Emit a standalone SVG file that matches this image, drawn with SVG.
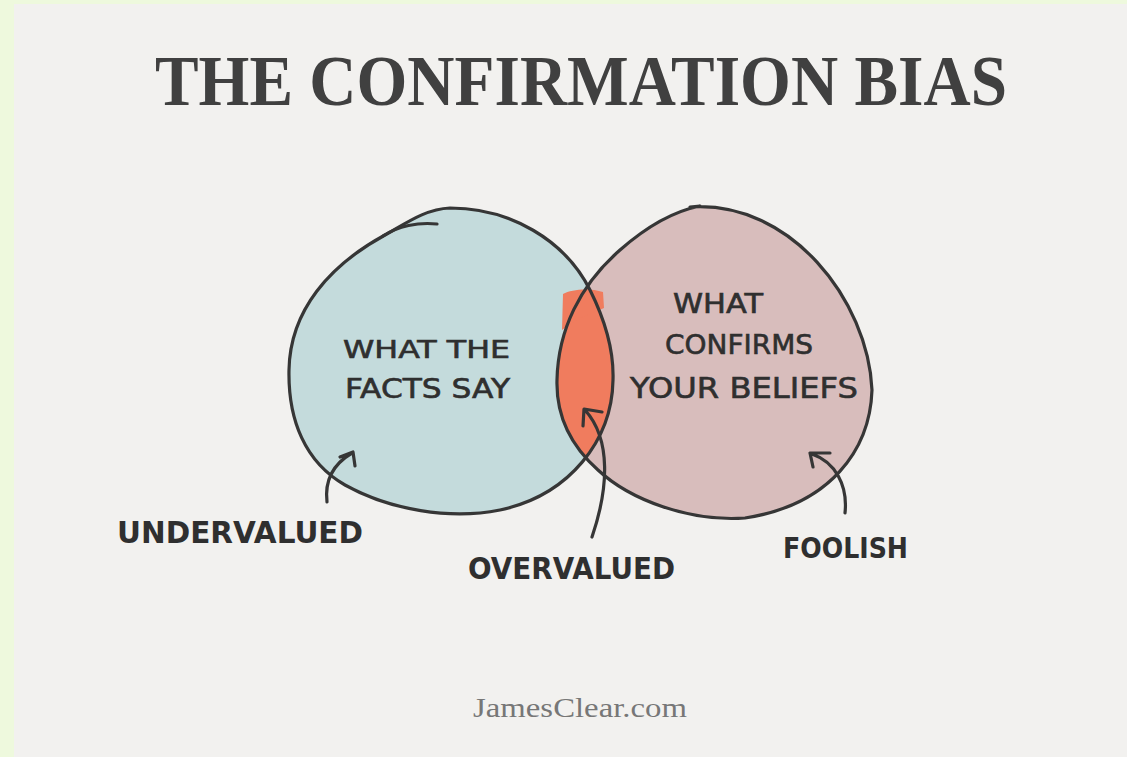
<svg xmlns="http://www.w3.org/2000/svg" width="1127" height="757" viewBox="0 0 1127 757">
<style>
.outline{fill:none;stroke:#363636;stroke-width:3.2;stroke-linecap:round;stroke-linejoin:round}
.hand{font-family:"DejaVu Sans","Liberation Sans",sans-serif;fill:#2f2f2f;stroke:#2f2f2f;stroke-width:0.6}
.label{font-family:"DejaVu Sans","Liberation Sans",sans-serif;font-weight:bold;fill:#2f2f2f}
</style>
<defs>
<path id="leftShape" d="M385,235 C405,224 425,209 450,208 C510,208 565,240 590,290 C605,320 614,350 613,380 C612,440 570,495 500,510 C450,520 390,510 345,485 C305,462 288,420 289,370 C290,310 330,265 385,235 Z"/>
<path id="rightShape" d="M690,207 C790,200 868,300 872,390 C870,450 830,505 745,518 C690,522 630,500 598,470 C570,445 556,415 557,380 C558,330 580,285 620,250 C645,228 670,212 700,206 Z"/>
<clipPath id="leftClip"><use href="#leftShape"/></clipPath>
</defs>
<rect x="0" y="0" width="1127" height="757" fill="#f2f1ef"/>
<rect x="0" y="0" width="14" height="757" fill="#eef9dd"/>
<rect x="0" y="0" width="1127" height="4" fill="#eef9dd"/>
<text x="155" y="105" font-family="Liberation Serif,serif" font-weight="bold" font-size="71" fill="#404040" textLength="852" lengthAdjust="spacingAndGlyphs">THE CONFIRMATION BIAS</text>
<g id="facts">
<use href="#leftShape" fill="#c4dbdc"/>
<text class="hand" x="343" y="358" font-size="24" textLength="167" lengthAdjust="spacingAndGlyphs">WHAT THE</text>
<text class="hand" x="345" y="398" font-size="26" textLength="165" lengthAdjust="spacingAndGlyphs">FACTS SAY</text>
</g>
<g id="beliefs">
<use href="#rightShape" fill="#d8bdbc"/>
</g>
<g id="overlap">
<use href="#rightShape" fill="#f07c5e" clip-path="url(#leftClip)"/>
<path d="M563,294 C572,289 590,288 603,292 L604,308 L580,318 L562,330 Z" fill="#f07c5e"/>
</g>
<g id="outlines">
<use href="#leftShape" class="outline"/>
<path class="outline" d="M437,224 C418,222 398,226 383,236"/>
<use href="#rightShape" class="outline"/>
</g>
<g id="beliefs-text">
<text class="hand" x="673" y="313" font-size="26" textLength="90" lengthAdjust="spacingAndGlyphs">WHAT</text>
<text class="hand" x="665" y="354" font-size="27" textLength="148" lengthAdjust="spacingAndGlyphs">CONFIRMS</text>
<text class="hand" x="630" y="398" font-size="28" textLength="228" lengthAdjust="spacingAndGlyphs">YOUR BELIEFS</text>
</g>
<g id="connectors">
<path class="outline" d="M327,502 C325,485 330,466 352,453 M340,457 L353,452 L355,466"/>
<path class="outline" d="M592,537 C608,490 612,440 585,410 M583,426 L584,409 L602,412"/>
<path class="outline" d="M845,513 C848,485 835,462 812,454 M813,467 L810,453 L830,453"/>
</g>
<g id="undervalued"><text class="label" x="117" y="543" font-size="31" textLength="246" lengthAdjust="spacingAndGlyphs">UNDERVALUED</text></g>
<g id="overvalued"><text class="label" x="468" y="579" font-size="31" textLength="207" lengthAdjust="spacingAndGlyphs">OVERVALUED</text></g>
<g id="foolish"><text class="label" x="783" y="558" font-size="29" textLength="125" lengthAdjust="spacingAndGlyphs">FOOLISH</text></g>
<text x="473" y="717" font-family="Liberation Serif,serif" font-size="28" fill="#777777" textLength="214" lengthAdjust="spacingAndGlyphs">JamesClear.com</text>
</svg>
